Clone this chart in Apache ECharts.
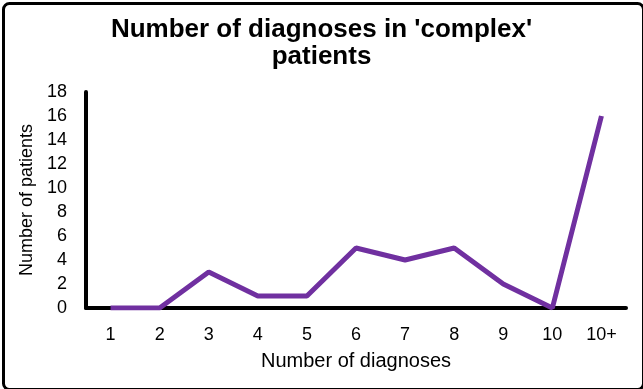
<!DOCTYPE html>
<html>
<head>
<meta charset="utf-8">
<script src="https://cdn.jsdelivr.net/npm/echarts@6/dist/echarts.min.js"></script>
<style>
html,body{margin:0;padding:0;background:#fff;}
#chart{width:643px;height:389px;}
</style>
</head>
<body>
<div id="chart"></div>
<script>
const categories = ['1','2','3','4','5','6','7','8','9','10','10+'];
const patients = [0,0,3,1,1,5,4,5,2,0,16];
const yTicks = {min:0, max:18, interval:2};

const chart = echarts.init(document.getElementById('chart'));
chart.setOption({
  animation:false,
  backgroundColor:'#fff',
  title:{
    text:"Number of diagnoses in 'complex'\npatients",
    left:'center', top:11,
    textStyle:{fontFamily:'Liberation Sans, Arial', fontWeight:'bold', fontSize:26, lineHeight:27, color:'#000'}
  },
  graphic:[{type:'rect', left:1, top:1, shape:{width:640, height:386, r:6}, style:{fill:'none', stroke:'#000', lineWidth:3}, z:100}],
  grid:{left:86, right:17, top:92, bottom:81},
  xAxis:{
    type:'category', data:categories, boundaryGap:true,
    name:'Number of diagnoses', nameLocation:'middle', nameGap:43,
    nameTextStyle:{fontFamily:'Liberation Sans, Arial', fontSize:20, color:'#000'},
    axisLine:{lineStyle:{color:'#000', width:4}},
    axisTick:{show:false},
    axisLabel:{fontFamily:'Liberation Sans, Arial', fontSize:18, color:'#000', margin:18}
  },
  yAxis:{
    type:'value', min:yTicks.min, max:yTicks.max, interval:yTicks.interval,
    name:'Number of patients', nameLocation:'middle', nameGap:47,
    nameTextStyle:{fontFamily:'Liberation Sans, Arial', fontSize:18, color:'#000'},
    axisLine:{show:true, lineStyle:{color:'#000', width:4}},
    axisTick:{show:false},
    splitLine:{show:false},
    axisLabel:{fontFamily:'Liberation Sans, Arial', fontSize:18, color:'#000', margin:19}
  },
  series:[{
    type:'line', data:patients, symbol:'none',
    lineStyle:{color:'#7030A0', width:5}
  }]
});
</script>
</body>
</html>
